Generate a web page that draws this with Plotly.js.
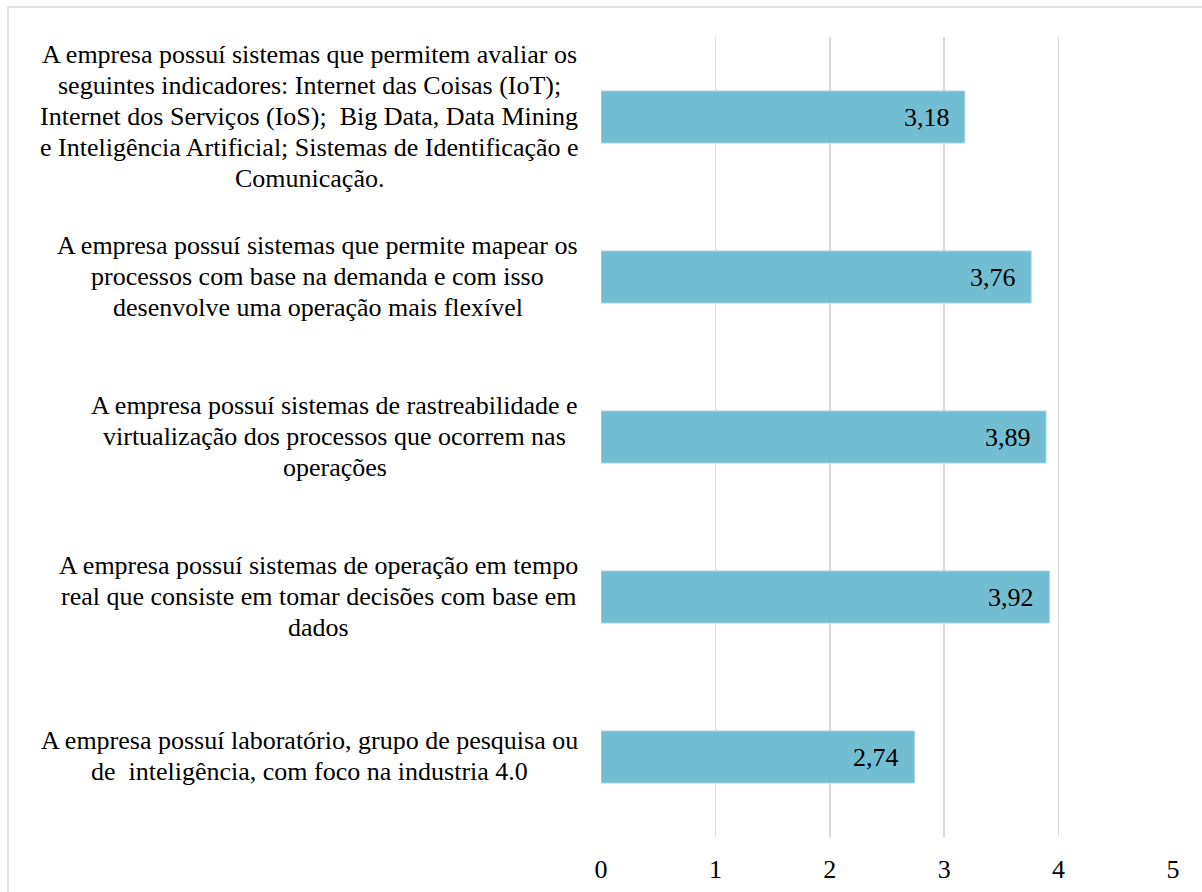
<!DOCTYPE html>
<html>
<head>
<meta charset="utf-8">
<script src="https://cdn.plot.ly/plotly-3.0.1.min.js"></script>
<style>
  html, body { margin: 0; padding: 0; background: #fff; }
  #chart { width: 1202px; height: 892px; }
</style>
</head>
<body>
<div id="chart"></div>
<script>
// Categories, top to bottom (line breaks as in the original)
const categories = [
  "A empresa possuí sistemas que permitem avaliar os<br>seguintes indicadores: Internet das Coisas (IoT);<br>Internet dos Serviços (IoS);\u00a0 Big Data, Data Mining<br>e Inteligência Artificial; Sistemas de Identificação e<br>Comunicação.",
  "A empresa possuí sistemas que permite mapear os<br>processos com base na demanda e com isso<br>desenvolve uma operação mais flexível",
  "A empresa possuí sistemas de rastreabilidade e<br>virtualização dos processos que ocorrem nas<br>operações",
  "A empresa possuí sistemas de operação em tempo<br>real que consiste em tomar decisões com base em<br>dados",
  "A empresa possuí laboratório, grupo de pesquisa ou<br>de\u00a0 inteligência, com foco na industria 4.0"
];
const values = [3.18, 3.76, 3.89, 3.92, 2.74];
const xTicks = [0, 1, 2, 3, 4, 5];

const FONT = "Liberation Serif";
const FS = 26;
const LINE = 31;
const W = 1202, H = 892;
const L = 601, R = 29, T = 37, B = 55;
const pw = W - L - R, ph = H - T - B;
const LABEL_RIGHT = 579;

const fmt = v => v.toFixed(2).replace('.', ',');

const cv = document.createElement('canvas').getContext('2d');
cv.font = FS + 'px "Liberation Serif"';
const measure = s => cv.measureText(s.replace(/\u00a0/g, ' ')).width;

const trace = {
  type: 'bar',
  orientation: 'h',
  x: values,
  y: categories,
  marker: { color: '#72BDD1', line: { color: '#A6D6E3', width: 1 } },
  hoverinfo: 'skip',
  textposition: 'none'
};

const annotations = [];
// Category labels: centered lines inside a right-aligned block
categories.forEach(c => {
  const lines = c.split('<br>');
  const n = lines.length;
  const maxW = Math.max(...lines.map(measure));
  const cx = LABEL_RIGHT - maxW / 2;
  lines.forEach((ln, k) => {
    annotations.push({
      xref: 'paper', yref: 'y',
      x: (cx - L) / pw, y: c,
      xanchor: 'center', yanchor: 'middle',
      yshift: -((k - (n - 1) / 2) * LINE) + 1,
      text: ln,
      showarrow: false,
      borderpad: 0,
      font: { family: FONT, size: FS, color: '#000' }
    });
  });
});
// Value labels at the inside end of each bar
values.forEach((v, i) => {
  annotations.push({
    xref: 'x', yref: 'y',
    x: v, y: categories[i],
    xanchor: 'right', yanchor: 'middle',
    xshift: -14,
    text: fmt(v),
    showarrow: false,
    borderpad: 0,
    font: { family: FONT, size: FS, color: '#000' }
  });
});

const layout = {
  width: W, height: H,
  margin: { l: L, r: R, t: T, b: B, pad: 0 },
  paper_bgcolor: '#fff', plot_bgcolor: '#fff',
  showlegend: false,
  bargap: 0.675,
  font: { family: FONT, size: FS, color: '#000' },
  xaxis: {
    range: [0, 5],
    tickvals: xTicks,
    ticktext: xTicks.map(String),
    showgrid: true, gridcolor: '#D9D9D9', gridwidth: 1.5,
    zeroline: false, showline: false,
    ticks: '', ticklabelstandoff: 14,
    tickfont: { family: FONT, size: FS, color: '#000' },
    fixedrange: true
  },
  yaxis: {
    type: 'category',
    categoryorder: 'array',
    categoryarray: categories,
    autorange: 'reversed',
    showticklabels: false,
    showgrid: false, zeroline: false, showline: false, ticks: '',
    fixedrange: true
  },
  annotations: annotations,
  shapes: [{
    type: 'rect', xref: 'paper', yref: 'paper',
    x0: (8 - L) / pw, x1: (1230 - L) / pw,
    y0: -(920 - (H - B)) / ph, y1: ((H - B) - 7) / ph,
    line: { color: '#D9D9D9', width: 1.5 },
    fillcolor: 'rgba(0,0,0,0)',
    layer: 'below'
  }]
};

Plotly.newPlot('chart', [trace], layout, { displayModeBar: false, staticPlot: true });
</script>
</body>
</html>
